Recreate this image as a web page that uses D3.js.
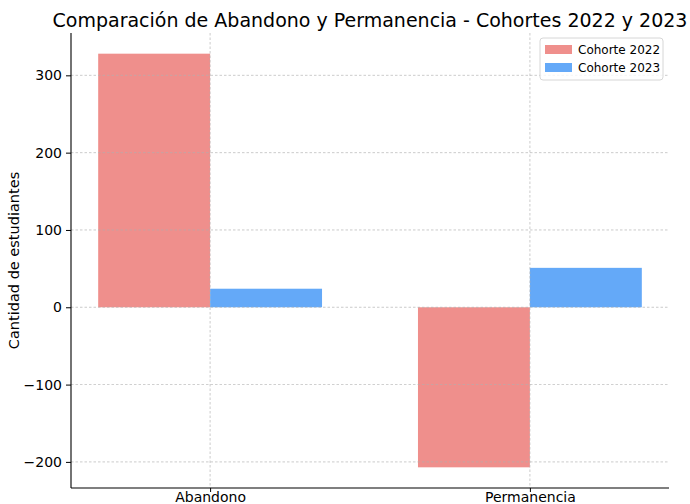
<html lang="es">
<head>
  <meta charset="UTF-8">
  <title>Abandono y Permanencia</title>
  <style>
    body { margin: 0; background: #fff; }
    svg { font-family: "DejaVu Sans", sans-serif; }
    .grid line { stroke: #b0b0b0; stroke-dasharray: 2.5,2; stroke-width: 0.8; opacity: 0.8; }
  </style>
</head>
<body>
  <div id="viz"></div>
  <script src="https://d3js.org/d3.v7.min.js"></script>
  <script>
    const categories = ["Abandono", "Permanencia"]
    const series = ["Cohorte 2022", "Cohorte 2023"]
    const cohorte2022 = [328, -207]
    const cohorte2023 = [24, 51]
    const yTicks = [-200, -100, 0, 100, 200, 300]
    const colors = ["#ef8f8c", "#64a9f8"]

    const W = 690, H = 504
    const margin = {top: 33, right: 21, bottom: 16, left: 71}
    const width = W - margin.left - margin.right
    const height = H - margin.top - margin.bottom
    const barW = 0.35

    const svg = d3.select("#viz").append("svg")
      .attr("width", W).attr("height", H)
    const g = svg.append("g")
      .attr("transform", "translate(" + margin.left + "," + margin.top + ")")

    // matplotlib-like 5% margins
    let xmin = -barW, xmax = categories.length - 1 + barW
    let xpad = (xmax - xmin) * 0.05
    const x = d3.scaleLinear().domain([xmin - xpad, xmax + xpad]).range([0, width])
    const all = cohorte2022.concat(cohorte2023, [0])
    let ymin = d3.min(all), ymax = d3.max(all)
    let ypad = (ymax - ymin) * 0.05
    const y = d3.scaleLinear().domain([ymin - ypad, ymax + ypad]).range([height, 0])

    const data = [cohorte2022, cohorte2023]

    data.forEach(function(vals, s) {
      g.selectAll("rect.s" + s)
        .data(vals)
        .enter()
        .append("rect")
        .attr("class", "s" + s)
        .attr("x", function(d, i) { return x(i + (s - 1) * barW) })
        .attr("width", x(barW) - x(0))
        .attr("y", function(d) { return y(Math.max(0, d)) })
        .attr("height", function(d) { return Math.abs(y(d) - y(0)) })
        .attr("fill", colors[s])
    })

    // grid on top of bars
    g.append("g").attr("class", "grid")
      .selectAll("line").data(yTicks).enter().append("line")
      .attr("x1", 0).attr("x2", width)
      .attr("y1", function(d) { return y(d) }).attr("y2", function(d) { return y(d) })
    g.append("g").attr("class", "grid")
      .selectAll("line").data(categories).enter().append("line")
      .attr("y1", 0).attr("y2", height)
      .attr("x1", function(d, i) { return x(i) }).attr("x2", function(d, i) { return x(i) })

    const yAxis = g.append("g")
      .call(d3.axisLeft(y).tickValues(yTicks).tickSize(5).tickPadding(4)
        .tickFormat(function(d) { return d < 0 ? "\u2212" + Math.abs(d) : d }))
    const xAxis = g.append("g")
      .attr("transform", "translate(0," + height + ")")
      .call(d3.axisBottom(x).tickValues(d3.range(categories.length)).tickSize(4).tickPadding(0)
        .tickFormat(function(d) { return categories[d] }))
    ;[yAxis, xAxis].forEach(function(a) {
      a.select(".domain").attr("stroke", "#000").attr("stroke-width", 1.1)
      a.selectAll(".tick line").attr("stroke", "#000")
      a.selectAll("text").attr("font-size", 14).attr("fill", "#000")
        .attr("font-family", "DejaVu Sans")
    })
    xAxis.select(".domain").attr("d", "M0,0H" + width)
    yAxis.select(".domain").attr("d", "M0,0V" + height)

    svg.append("text")
      .attr("x", margin.left + width / 2).attr("y", 27)
      .attr("text-anchor", "middle").attr("font-size", 19)
      .text("Comparación de Abandono y Permanencia - Cohortes 2022 y 2023")

    svg.append("text")
      .attr("transform", "translate(19," + (margin.top + height / 2) + ") rotate(-90)")
      .attr("text-anchor", "middle").attr("font-size", 14.5)
      .text("Cantidad de estudiantes")

    // legend
    const lg = svg.append("g").attr("transform", "translate(540,38)")
    lg.append("rect").attr("width", 123).attr("height", 42).attr("rx", 3)
      .attr("fill", "#fff").attr("fill-opacity", 0.8).attr("stroke", "#d6d6d6")
    series.forEach(function(name, i) {
      lg.append("rect").attr("x", 5).attr("y", 7 + i * 18).attr("width", 27).attr("height", 9)
        .attr("fill", colors[i])
      lg.append("text").attr("x", 38).attr("y", 16 + i * 18)
        .attr("font-size", 12).text(name)
    })
  </script>
</body>
</html>
